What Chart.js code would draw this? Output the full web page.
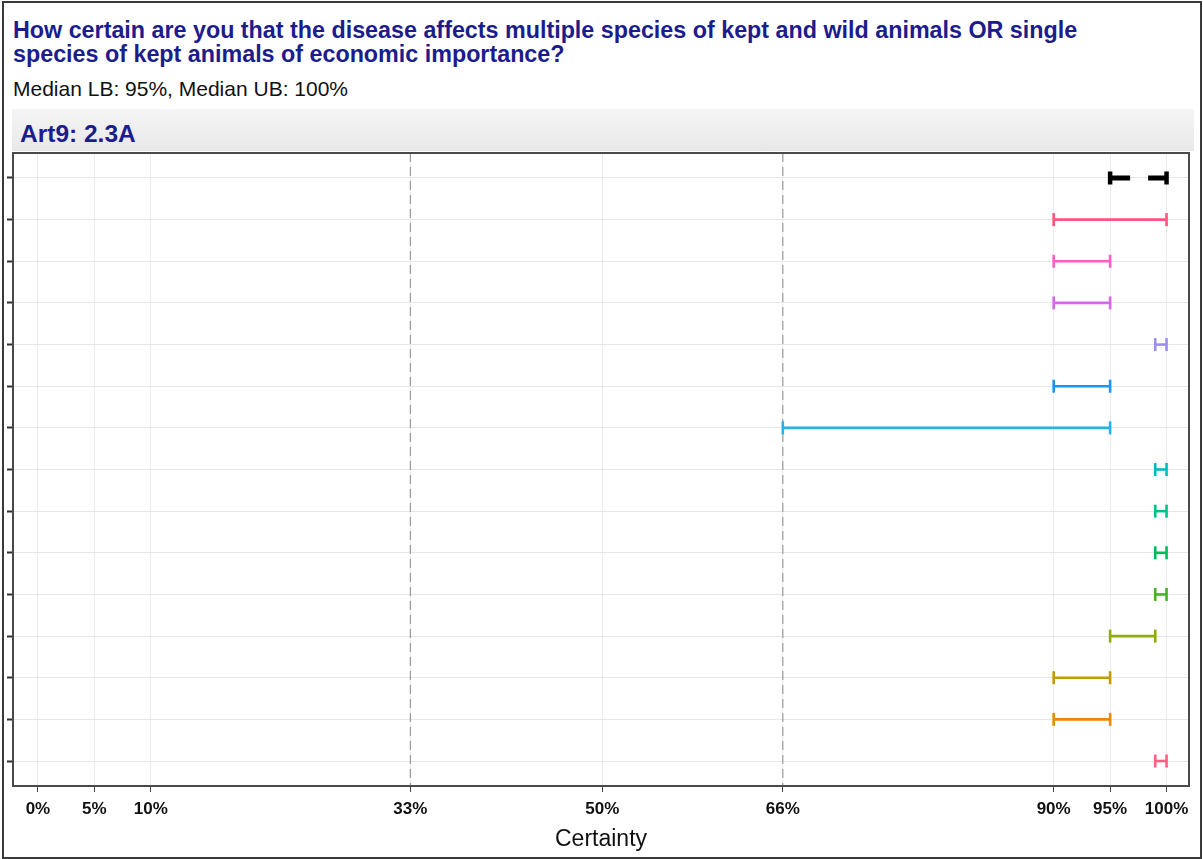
<!DOCTYPE html>
<html>
<head>
<meta charset="utf-8">
<script src="https://cdn.jsdelivr.net/npm/chart.js@4"></script>
<style>
  html, body { margin: 0; padding: 0; background: #fff; }
  #frame {
    position: absolute; left: 2px; top: 1px; width: 1196px; height: 854px;
    border: 2px solid #3a3a3a; overflow: hidden;
    font-family: "Liberation Sans", Arial, sans-serif;
  }
  #title {
    position: absolute; left: 9px; top: 15px; width: 1095px;
    font-size: 23.3px; font-weight: bold; color: #1c1c8c; line-height: 24px;
  }
  #subtitle {
    position: absolute; left: 9px; top: 74px; font-size: 21px; color: #111;
  }
  #band {
    position: absolute; left: 8px; top: 106px; width: 1182px; height: 42px;
    background: linear-gradient(#f5f5f5, #e8e8e8);
  }
  #band span {
    position: absolute; left: 8px; top: 11px; font-size: 24.5px; font-weight: bold; color: #1c1c8c;
  }
  #wrap { position: absolute; left: -2px; top: 139px; width: 1203px; height: 722px; }
</style>
</head>
<body>
<div id="frame">
  <div id="title">How certain are you that the disease affects multiple species of kept and wild animals OR single species of kept animals of economic importance?</div>
  <div id="subtitle">Median LB: 95%, Median UB: 100%</div>
  <div id="band"><span>Art9: 2.3A</span></div>
  <div id="wrap"><canvas id="grafica" width="1203" height="722"></canvas></div>
</div>
<script>
// filas: la primera es la mediana, las demás cada experto
const rows = ["Median", "E1", "E2", "E3", "E4", "E5", "E6", "E7", "E8", "E9", "E10", "E11", "E12", "E13", "E14"];
const lowerBounds = [95, 90, 90, 90, 99, 90, 66, 99, 99, 99, 99, 95, 90, 90, 99];
const upperBounds = [100, 100, 95, 95, 100, 95, 95, 100, 100, 100, 100, 99, 95, 95, 100];
const rowColors = ["#000000", "#f8557f", "#ff5ec4", "#d766ee", "#9b8ef2", "#1f95f2", "#25b2e6",
  "#00bcc2", "#00c08c", "#00b95a", "#45b22a", "#8fab10", "#c59b00", "#e98a00", "#fb6080"];
const xTicks = [0, 5, 10, 33, 50, 66, 90, 95, 100];
const refLines = [33, 66];

const datasets = [];
refLines.forEach(function (v) {
  datasets.push({
    data: [{ x: v, y: 0.4 }, { x: v, y: 15.6 }],
    showLine: true, borderColor: "#9a9a9a", borderWidth: 1.2, borderDash: [9, 5],
    pointRadius: 0, order: 10
  });
});
rows.forEach(function (r, i) {
  const median = i === 0;
  datasets.push({
    label: r,
    data: [{ x: lowerBounds[i], y: i + 1 }, { x: upperBounds[i], y: i + 1 }],
    showLine: true,
    borderColor: rowColors[i],
    borderWidth: median ? 5 : 2.6,
    borderDash: median ? [20, 18] : [],
    pointStyle: "line",
    rotation: 90,
    pointRadius: 6.5,
    pointBorderWidth: median ? 4.5 : 2.6,
    pointBorderColor: rowColors[i],
    pointBackgroundColor: rowColors[i],
    order: 1
  });
});

const frameBox = {
  id: "frameBox",
  afterDraw(chart) {
    const a = chart.chartArea, c = chart.ctx;
    c.save();
    c.strokeStyle = "#4a4a4a";
    c.lineWidth = 2;
    c.strokeRect(a.left, a.top, a.right - a.left, a.bottom - a.top);
    c.restore();
  }
};

const ctx = document.getElementById("grafica").getContext("2d");
new Chart(ctx, {
  type: "scatter",
  data: { datasets: datasets },
  plugins: [frameBox],
  options: {
    responsive: false,
    animation: false,
    layout: { padding: { left: 4, right: 16, top: 6, bottom: 11 } },
    plugins: { legend: { display: false }, tooltip: { enabled: false } },
    scales: {
      x: {
        type: "linear",
        min: -2.21, max: 101.99,
        afterBuildTicks: function (axis) { axis.ticks = xTicks.map(function (v) { return { value: v }; }); },
        ticks: {
          callback: function (v) { return v + "%"; },
          font: { family: "Liberation Sans", size: 17, weight: "bold" },
          color: "#111", padding: 7, maxRotation: 0, autoSkip: false
        },
        grid: { color: "#ececec", lineWidth: 1, tickLength: 6, tickColor: "#444" },
        border: { display: false },
        title: {
          display: true, text: "Certainty", color: "#111",
          font: { family: "Liberation Sans", size: 23 }, padding: { top: -1, bottom: 0 }
        }
      },
      y: {
        type: "linear",
        min: 0.4, max: 15.6, reverse: true,
        afterBuildTicks: function (axis) { axis.ticks = rows.map(function (r, i) { return { value: i + 1 }; }); },
        ticks: { display: false },
        grid: { color: "#e6e6e6", lineWidth: 1, tickLength: 6, tickColor: "#333", tickWidth: 2 },
        border: { display: false }
      }
    }
  }
});
</script>
</body>
</html>
